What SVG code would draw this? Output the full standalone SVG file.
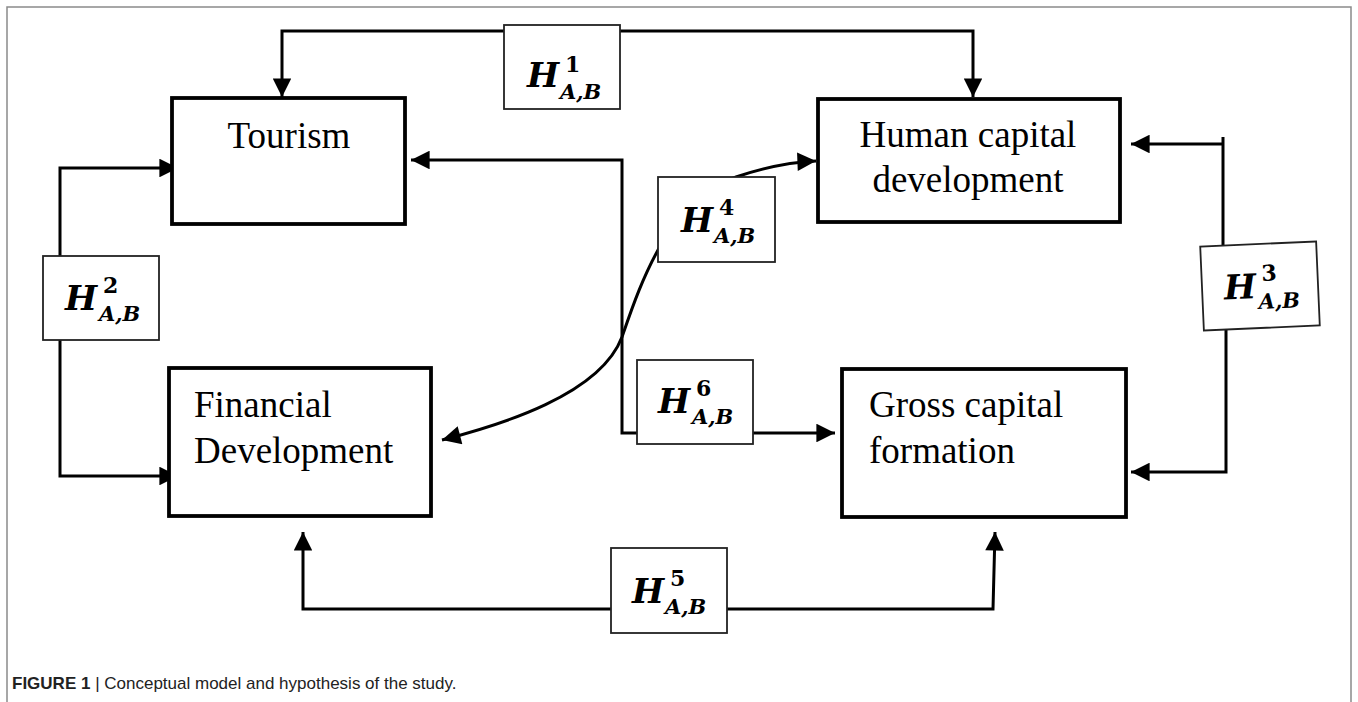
<svg xmlns="http://www.w3.org/2000/svg" width="1358" height="702" viewBox="0 0 1358 702">
<defs>
<marker id="ah" viewBox="0 0 10 10" refX="10" refY="5" markerWidth="6.5" markerHeight="6.2" markerUnits="strokeWidth" orient="auto-start-reverse">
<path d="M0,0 L10,5 L0,10 z" fill="#000"/>
</marker>
</defs>
<style>
.node rect{fill:#fff;stroke:#000;stroke-width:3.8}
.node text{font-family:"Liberation Serif",serif;font-size:37px;fill:#000}
.hyp rect{fill:#fff;stroke:#222;stroke-width:1.8}
.hyp text{font-family:"DejaVu Serif","Liberation Serif",serif;font-weight:bold;font-style:italic;fill:#000}
.hyp .big{font-size:34px}
.hyp .sm{font-size:21px}
.hyp .sup{font-size:22px;font-style:normal}
.conn path{fill:none;stroke:#000;stroke-width:3}
.arr{marker-end:url(#ah)}
</style>
<rect x="7" y="7" width="1344" height="720" fill="none" stroke="#8a8a8a" stroke-width="1.5"/>
<g id="connectors" class="conn">
<path class="arr" d="M504,31 L282,31 L282,97"/>
<path class="arr" d="M620,31 L973,31 L973,97"/>
<path class="arr" d="M60,256 L60,168 L178,168"/>
<path class="arr" d="M60,340 L60,476 L178,476"/>
<path class="arr" d="M637,433 L622,433 L622,160 L411,160"/>
<path class="arr" d="M753,433 L835,433"/>
<path d="M442,440 C500,425 600,395 622,337 C640,285 668,200 736,177 C760,169 790,162 816,161" marker-start="url(#ah)" marker-end="url(#ah)"/>
<path d="M1223,246 L1223,137"/>
<path class="arr" d="M1223,144 L1131,144"/>
<path class="arr" d="M1226,330 L1226,472 L1131,472"/>
<path class="arr" d="M611,609 L303,609 L303,532"/>
<path class="arr" d="M727,609 L993,609 L995,532"/>
</g>
<g id="tourism" class="node">
<rect x="172" y="98" width="233" height="126"/>
<text x="289" y="148" text-anchor="middle">Tourism</text>
</g>
<g id="human" class="node">
<rect x="818" y="99" width="302" height="123"/>
<text x="968" y="147" text-anchor="middle">Human capital</text>
<text x="968" y="192" text-anchor="middle">development</text>
</g>
<g id="financial" class="node">
<rect x="169" y="368" width="262" height="148"/>
<text x="194" y="417">Financial</text>
<text x="194" y="463">Development</text>
</g>
<g id="gross" class="node">
<rect x="842" y="369" width="284" height="148"/>
<text x="869" y="417">Gross capital</text>
<text x="869" y="463">formation</text>
</g>
<g id="h1" class="hyp">
<rect x="504" y="25" width="116" height="84"/>
<text class="big" x="527" y="87">H</text>
<text class="sup" x="565" y="72">1</text>
<text class="sm" x="560" y="99">A,B</text>
</g>
<g id="h2" class="hyp">
<rect x="43" y="256" width="116" height="84"/>
<text class="big" x="65" y="310">H</text>
<text class="sup" x="103" y="293">2</text>
<text class="sm" x="99" y="321">A,B</text>
</g>
<g id="h3" class="hyp" transform="rotate(-2.5 1260 286)">
<rect x="1202" y="244" width="116" height="84"/>
<text class="big" x="1224" y="298">H</text>
<text class="sup" x="1262" y="281">3</text>
<text class="sm" x="1258" y="309">A,B</text>
</g>
<g id="h4" class="hyp">
<rect x="658" y="177" width="117" height="85"/>
<text class="big" x="681" y="232">H</text>
<text class="sup" x="719" y="215">4</text>
<text class="sm" x="714" y="243">A,B</text>
</g>
<g id="h5" class="hyp">
<rect x="611" y="548" width="116" height="85"/>
<text class="big" x="632" y="603">H</text>
<text class="sup" x="670" y="586">5</text>
<text class="sm" x="665" y="614">A,B</text>
</g>
<g id="h6" class="hyp">
<rect x="637" y="360" width="116" height="84"/>
<text class="big" x="658" y="413">H</text>
<text class="sup" x="696" y="396">6</text>
<text class="sm" x="692" y="424">A,B</text>
</g>
<text x="12" y="689" font-family="'Liberation Sans',sans-serif" font-size="17" fill="#222"><tspan font-weight="bold">FIGURE 1</tspan> | Conceptual model and hypothesis of the study.</text>
</svg>
